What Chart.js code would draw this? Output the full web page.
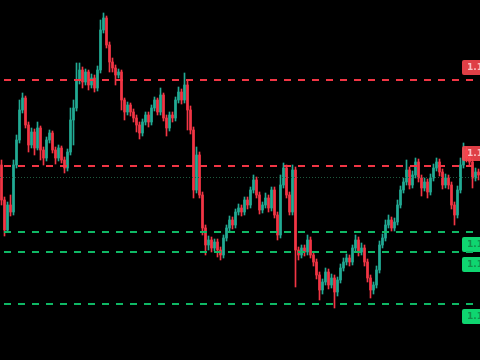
<!DOCTYPE html>
<html>
<head>
<meta charset="utf-8">
<script src="https://cdn.jsdelivr.net/npm/chart.js@4"></script>
<style>
  html, body { margin: 0; padding: 0; background: #000; }
  #chart { display: block; background: #000; }
</style>
</head>
<body>
<canvas id="chart" width="480" height="360"></canvas>
<script>
// --- price data ---
const closes = [
  1.1522, 1.1492, 1.1517, 1.1510, 1.1557, 1.1582, 1.1612, 1.1624, 1.1597, 1.1577,
  1.1590, 1.1574, 1.1594, 1.1572, 1.1564, 1.1582, 1.1589, 1.1572, 1.1564, 1.1574,
  1.1562, 1.1554, 1.1570, 1.1602, 1.1614, 1.1642, 1.1652, 1.1640, 1.1650, 1.1637,
  1.1644, 1.1634, 1.1652, 1.1692, 1.1704, 1.1677, 1.1660, 1.1654, 1.1647, 1.1650,
  1.1622, 1.1610, 1.1617, 1.1610, 1.1604, 1.1597, 1.1589, 1.1600, 1.1607, 1.1600,
  1.1614, 1.1622, 1.1610, 1.1627, 1.1604, 1.1594, 1.1607, 1.1604, 1.1622, 1.1630,
  1.1622, 1.1637, 1.1612, 1.1592, 1.1532, 1.1567, 1.1527, 1.1494, 1.1477, 1.1482,
  1.1474, 1.1480, 1.1472, 1.1467, 1.1484, 1.1494, 1.1502, 1.1497, 1.1510, 1.1514,
  1.1510, 1.1522, 1.1517, 1.1532, 1.1542, 1.1527, 1.1512, 1.1517, 1.1524, 1.1514,
  1.1532, 1.1507, 1.1487, 1.1537, 1.1554, 1.1527, 1.1510, 1.1552, 1.1472, 1.1467,
  1.1474, 1.1470, 1.1482, 1.1467, 1.1460, 1.1447, 1.1432, 1.1440, 1.1450, 1.1437,
  1.1444, 1.1430, 1.1442, 1.1454, 1.1460, 1.1464, 1.1460, 1.1474, 1.1482, 1.1470,
  1.1474, 1.1460, 1.1444, 1.1432, 1.1437, 1.1452, 1.1477, 1.1484, 1.1497, 1.1502,
  1.1494, 1.1500, 1.1517, 1.1532, 1.1540, 1.1552, 1.1537, 1.1547, 1.1560, 1.1544,
  1.1534, 1.1540, 1.1530, 1.1544, 1.1554, 1.1560, 1.1550, 1.1537, 1.1544, 1.1537,
  1.1517, 1.1507, 1.1532, 1.1557, 1.1572, 1.1564, 1.1560, 1.1544, 1.1550, 1.1547
];
const opens = [
  1.1557, 1.1522, 1.1492, 1.1517, 1.1510, 1.1557, 1.1582, 1.1612, 1.1624, 1.1597,
  1.1577, 1.1590, 1.1574, 1.1594, 1.1572, 1.1564, 1.1582, 1.1589, 1.1572, 1.1564,
  1.1574, 1.1562, 1.1554, 1.1570, 1.1602, 1.1614, 1.1642, 1.1652, 1.1640, 1.1650,
  1.1637, 1.1644, 1.1634, 1.1652, 1.1692, 1.1704, 1.1677, 1.1660, 1.1654, 1.1647,
  1.1650, 1.1622, 1.1610, 1.1617, 1.1610, 1.1604, 1.1597, 1.1589, 1.1600, 1.1607,
  1.1600, 1.1614, 1.1622, 1.1610, 1.1627, 1.1604, 1.1594, 1.1607, 1.1604, 1.1622,
  1.1630, 1.1622, 1.1637, 1.1612, 1.1592, 1.1532, 1.1567, 1.1527, 1.1494, 1.1477,
  1.1482, 1.1474, 1.1480, 1.1472, 1.1467, 1.1484, 1.1494, 1.1502, 1.1497, 1.1510,
  1.1514, 1.1510, 1.1522, 1.1517, 1.1532, 1.1542, 1.1527, 1.1512, 1.1517, 1.1524,
  1.1514, 1.1532, 1.1507, 1.1487, 1.1537, 1.1554, 1.1527, 1.1510, 1.1552, 1.1472,
  1.1467, 1.1474, 1.1470, 1.1482, 1.1467, 1.1460, 1.1447, 1.1432, 1.1440, 1.1450,
  1.1437, 1.1444, 1.1430, 1.1442, 1.1454, 1.1460, 1.1464, 1.1460, 1.1474, 1.1482,
  1.1470, 1.1474, 1.1460, 1.1444, 1.1432, 1.1437, 1.1452, 1.1477, 1.1484, 1.1497,
  1.1502, 1.1494, 1.1500, 1.1517, 1.1532, 1.1540, 1.1552, 1.1537, 1.1547, 1.1560,
  1.1544, 1.1534, 1.1540, 1.1530, 1.1544, 1.1554, 1.1560, 1.1550, 1.1537, 1.1544,
  1.1537, 1.1517, 1.1507, 1.1532, 1.1557, 1.1572, 1.1564, 1.1560, 1.1544, 1.1550
];
const highs = [
  1.1562, 1.1525, 1.1520, 1.1527, 1.1562, 1.1587, 1.1622, 1.1629, 1.1626, 1.1600,
  1.1594, 1.1593, 1.1600, 1.1596, 1.1575, 1.1585, 1.1592, 1.1591, 1.1575, 1.1577,
  1.1576, 1.1565, 1.1573, 1.1614, 1.1622, 1.1659, 1.1659, 1.1655, 1.1653, 1.1652,
  1.1648, 1.1647, 1.1656, 1.1702, 1.1709, 1.1706, 1.1680, 1.1664, 1.1657, 1.1653,
  1.1652, 1.1624, 1.1620, 1.1619, 1.1613, 1.1607, 1.1600, 1.1603, 1.1610, 1.1610,
  1.1617, 1.1625, 1.1624, 1.1634, 1.1629, 1.1607, 1.1610, 1.1610, 1.1625, 1.1635,
  1.1633, 1.1649, 1.1642, 1.1616, 1.1595, 1.1575, 1.1570, 1.1530, 1.1497, 1.1486,
  1.1485, 1.1483, 1.1483, 1.1475, 1.1487, 1.1497, 1.1506, 1.1505, 1.1513, 1.1518,
  1.1517, 1.1525, 1.1525, 1.1535, 1.1547, 1.1545, 1.1530, 1.1520, 1.1529, 1.1527,
  1.1535, 1.1535, 1.1510, 1.1547, 1.1559, 1.1557, 1.1530, 1.1557, 1.1555, 1.1475,
  1.1477, 1.1477, 1.1487, 1.1485, 1.1470, 1.1463, 1.1450, 1.1443, 1.1454, 1.1453,
  1.1448, 1.1447, 1.1445, 1.1458, 1.1464, 1.1468, 1.1467, 1.1477, 1.1487, 1.1485,
  1.1479, 1.1477, 1.1463, 1.1447, 1.1440, 1.1456, 1.1481, 1.1488, 1.1502, 1.1507,
  1.1505, 1.1504, 1.1522, 1.1536, 1.1544, 1.1562, 1.1555, 1.1551, 1.1564, 1.1563,
  1.1547, 1.1544, 1.1543, 1.1548, 1.1558, 1.1564, 1.1563, 1.1553, 1.1548, 1.1547,
  1.1540, 1.1520, 1.1536, 1.1564, 1.1579, 1.1575, 1.1567, 1.1563, 1.1554, 1.1553
];
const lows = [
  1.1517, 1.1486, 1.1490, 1.1506, 1.1507, 1.1554, 1.1579, 1.1609, 1.1594, 1.1570,
  1.1574, 1.1567, 1.1572, 1.1562, 1.1557, 1.1561, 1.1579, 1.1569, 1.1558, 1.1561,
  1.1559, 1.1549, 1.1551, 1.1567, 1.1577, 1.1611, 1.1638, 1.1634, 1.1637, 1.1632,
  1.1634, 1.1630, 1.1631, 1.1649, 1.1689, 1.1674, 1.1650, 1.1650, 1.1637, 1.1644,
  1.1612, 1.1602, 1.1607, 1.1606, 1.1600, 1.1590, 1.1583, 1.1586, 1.1597, 1.1595,
  1.1597, 1.1611, 1.1607, 1.1607, 1.1601, 1.1586, 1.1591, 1.1600, 1.1601, 1.1619,
  1.1618, 1.1619, 1.1592, 1.1588, 1.1524, 1.1529, 1.1524, 1.1487, 1.1467, 1.1472,
  1.1470, 1.1471, 1.1465, 1.1462, 1.1464, 1.1481, 1.1491, 1.1493, 1.1494, 1.1507,
  1.1506, 1.1507, 1.1513, 1.1514, 1.1529, 1.1524, 1.1508, 1.1509, 1.1514, 1.1510,
  1.1511, 1.1504, 1.1482, 1.1484, 1.1534, 1.1524, 1.1507, 1.1507, 1.1435, 1.1462,
  1.1464, 1.1466, 1.1467, 1.1464, 1.1456, 1.1443, 1.1422, 1.1428, 1.1437, 1.1433,
  1.1434, 1.1414, 1.1426, 1.1439, 1.1451, 1.1457, 1.1456, 1.1457, 1.1471, 1.1466,
  1.1467, 1.1456, 1.1440, 1.1424, 1.1428, 1.1434, 1.1449, 1.1474, 1.1481, 1.1494,
  1.1491, 1.1491, 1.1497, 1.1514, 1.1529, 1.1537, 1.1533, 1.1534, 1.1544, 1.1540,
  1.1526, 1.1531, 1.1524, 1.1527, 1.1541, 1.1551, 1.1546, 1.1533, 1.1534, 1.1533,
  1.1513, 1.1497, 1.1504, 1.1529, 1.1554, 1.1560, 1.1556, 1.1534, 1.1541, 1.1542
];

// horizontal levels
const resistanceLevels = [1.1642, 1.1556];
const supportLevels = [1.1490, 1.1470, 1.1418];
const lastPrice = 1.1545;
const priceMin = 1.1362;
const priceMax = 1.1722;

const UP = '#22ab94';
const DOWN = '#f23645';

const labels = closes.map((_, i) => i);
const candleColors = closes.map((c, i) => c >= opens[i] ? UP : DOWN);

// dashed levels + price tags drawn on top of candles
const levelsPlugin = {
  id: 'levels',
  afterDatasetsDraw(chart) {
    const ctx = chart.ctx;
    const y = chart.scales.y;
    const area = chart.chartArea;
    ctx.save();

    // last price dotted line
    ctx.strokeStyle = '#1f5a3e';
    ctx.lineWidth = 1;
    ctx.setLineDash([1, 2]);
    const py = Math.round(y.getPixelForValue(lastPrice)) + 0.5;
    ctx.beginPath();
    ctx.moveTo(area.left, py);
    ctx.lineTo(area.right, py);
    ctx.stroke();

    const drawLevel = (value, color) => {
      const ly = Math.round(y.getPixelForValue(value));
      ctx.strokeStyle = color;
      ctx.lineWidth = 2;
      ctx.setLineDash([7, 7]);
      ctx.lineDashOffset = -4;
      ctx.beginPath();
      ctx.moveTo(area.left, ly);
      ctx.lineTo(area.right - 6, ly);
      ctx.stroke();
      return ly;
    };

    const drawTag = (value, top, bg, fg) => {
      ctx.setLineDash([]);
      ctx.fillStyle = bg;
      ctx.beginPath();
      ctx.roundRect(462, top, 30, 15, 2);
      ctx.fill();
      ctx.fillStyle = fg;
      ctx.font = 'bold 9px "DejaVu Sans", sans-serif';
      ctx.textBaseline = 'middle';
      ctx.textAlign = 'left';
      ctx.fillText(value.toFixed(4), 467, top + 8);
    };

    resistanceLevels.forEach(v => {
      const ly = drawLevel(v, '#f23645');
      drawTag(v, ly - 20, 'rgba(247, 70, 78, 0.9)', 'rgba(255, 225, 225, 0.8)');
    });
    supportLevels.forEach(v => {
      const ly = drawLevel(v, '#0fb865');
      drawTag(v, ly + 5, 'rgba(16, 224, 118, 0.95)', 'rgba(20, 110, 60, 0.7)');
    });

    ctx.restore();
  }
};

const ctx = document.getElementById('chart').getContext('2d');
new Chart(ctx, {
  type: 'bar',
  data: {
    labels: labels,
    datasets: [
      {
        label: 'wick',
        data: highs.map((h, i) => [lows[i], h]),
        backgroundColor: candleColors,
        barThickness: 1,
        grouped: false,
        order: 2
      },
      {
        label: 'body',
        data: opens.map((o, i) => [o, closes[i]]),
        backgroundColor: candleColors,
        barThickness: 2,
        minBarLength: 1,
        grouped: false,
        order: 1
      }
    ]
  },
  options: {
    responsive: false,
    animation: false,
    layout: { padding: 0 },
    plugins: {
      legend: { display: false },
      tooltip: { enabled: false }
    },
    scales: {
      x: { display: false, offset: true },
      y: { display: false, min: priceMin, max: priceMax }
    }
  },
  plugins: [levelsPlugin]
});
</script>
</body>
</html>
